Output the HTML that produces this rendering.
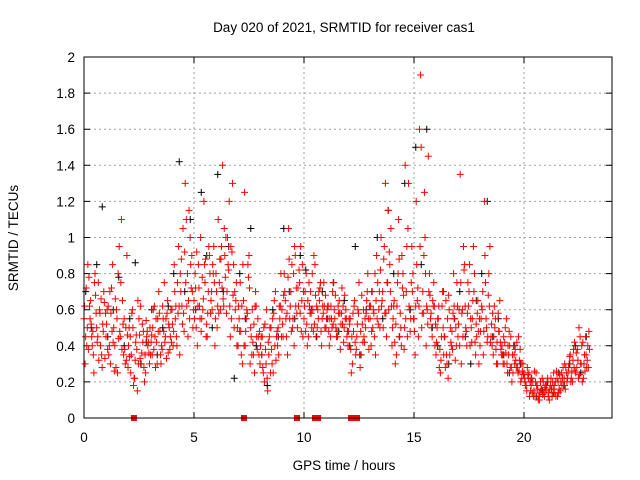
<!DOCTYPE html>
<html><head><meta charset="utf-8"><style>
body{margin:0;background:#fff}
svg{display:block;font-family:"Liberation Sans",sans-serif}
</style></head><body>
<svg id="chart" width="640" height="480" xmlns="http://www.w3.org/2000/svg">
<text x="344" y="32" font-size="13.5" text-anchor="middle">Day 020 of 2021, SRMTID for receiver cas1</text>
<text transform="translate(18,238) rotate(-90)" font-size="13.5" text-anchor="middle">SRMTID / TECUs</text>
<text x="344" y="470" font-size="13.5" text-anchor="middle">GPS time / hours</text>
<g id="grid"></g>
<g id="marks"></g>
<rect x="84" y="57" width="528" height="361" fill="none" stroke="#000" stroke-width="1"/>
</svg>
<script>
const xTicks=[0,5,10,15,20];
const yTicks=[0,0.2,0.4,0.6,0.8,1,1.2,1.4,1.6,1.8,2];
const yTickLabels=["0","0.2","0.4","0.6","0.8","1","1.2","1.4","1.6","1.8","2"];
const redA=[.55,.72,.38,.65,.48,.80,.42,.60,.35,.70,.45,.62,.30,.85,.40,.55,.95,1.10,.35,.50,.28,.45,.60,.22,.38,.55,.30,.48,.25,.40,.50,.35,.62,.42,.70,.30,.55,.45,.65,.38,.60,.85,.45,.95,.70,1.05,1.30,.80,.55,.90,.65,.50,.85,1.00,.60,.75,.45,.90,.70,.95,.80,1.10,.60,1.40,.90,.70,1.20,.55,.85,.65,.40,.75,.30,1.25,.60,.90,.45,.35,.70,.55,.30,.45,.20,.60,.35,.50,.25,.70,.40,.55,.60,.80,.45,1.05,.70,.55,.90,.50,.75,.65,.55,.80,.45,.70,.60,.85,.50,.65,.40,.75,.50,.62,.45,.70,.55,.48,.65,.58,.42,.60,.40,.55,.30,.65,.45,.75,.35,.60,.50,.80,.55,.70,.45,.90,.60,1.00,.50,1.30,.75,.85,.40,.65,.35,1.10,.50,.80,1.40,.45,.60,.95,.55,1.20,.45,1.90,.70,1.00,.60,.80,.50,.75,.35,.55,.25,.70,.45,.30,.60,.40,.80,.50,.45,1.35,.60,.85,.40,.70,.50,.95,.35,.65,.40,.60,1.20,.50,.80,.45,.35,.55,.30,.65,.40,.30,.55,.35,.45,.25,.38,.28,.32,.22,.25,.18,.22,.15,.20,.12,.18,.10,.16,.14,.15,.12,.18,.20,.14,.22,.16,.25,.18,.28,.25,.35,.20,.42,.28,.50,.30,.22,.45,.40];
const redB=[.30,.50,.62,.45,.25,.58,.75,.40,.52,.33,.60,.40,.72,.50,.28,.80,.45,.65,.38,.90,.50,.35,.18,.42,.65,.33,.52,.20,.45,.36,.42,.60,.28,.55,.48,.38,.75,.33,.52,.60,.40,.55,.75,.35,.62,.48,1.10,.65,.85,.50,.80,.40,.62,.55,1.20,.45,.70,.58,.85,.40,.50,.75,.95,.62,1.00,.85,.45,1.30,.70,.40,.55,.35,.65,.48,.85,.30,.60,.25,.45,.35,.45,.25,.38,.15,.50,.30,.65,.45,.35,.80,.45,.65,.35,.55,.85,.40,.72,.62,.95,.45,.70,.40,.62,.50,.90,.45,.55,.75,.62,.50,.60,.40,.55,.75,.50,.62,.38,.52,.68,.45,.55,.25,.48,.35,.60,.28,.52,.42,.65,.38,.40,.60,.35,.75,.50,.65,.95,.45,.60,1.05,.55,.30,.75,.45,.90,.38,.70,1.30,.55,.80,.35,.65,1.60,.50,.90,.40,1.45,.55,.65,.40,.50,.28,.45,.35,.65,.22,.50,.38,.55,.75,.60,.30,.95,.50,.75,.40,.55,.80,.45,.30,.55,.35,.75,.45,.95,.40,.62,.30,.48,.38,.30,.50,.25,.40,.20,.35,.28,.45,.20,.30,.20,.28,.12,.22,.15,.25,.10,.20,.13,.17,.20,.10,.16,.25,.12,.20,.15,.22,.30,.20,.30,.22,.38,.25,.32,.45,.20,.35,.28,.48];
const redC=[.62,.40,.78,.52,.35,.68,.45,.58,.28,.64,.52,.35,.58,.42,.66,.25,.48,.38,.55,.32,.40,.25,.50,.32,.15,.46,.36,.28,.54,.42,.35,.50,.45,.30,.58,.40,.48,.55,.36,.45,.52,.70,.40,.62,.88,.58,.75,.45,1.00,.70,.55,.92,.72,.48,.66,.88,.58,.80,.60,.75,.70,.58,.88,.66,.78,1.00,.62,.92,.50,.75,.62,.48,.85,.40,.58,.72,.35,.52,.62,.45,.40,.28,.52,.22,.45,.38,.58,.32,.50,.62,.52,.70,.58,.88,.48,.80,.62,.72,.58,.85,.62,.52,.75,.58,.48,.68,.60,.72,.55,.62,.55,.48,.62,.52,.68,.45,.58,.72,.50,.55,.48,.38,.58,.42,.52,.35,.68,.45,.58,.55,.62,.50,.80,.55,.70,.62,.88,.58,1.15,.70,.50,.42,.62,.88,.40,.68,.55,1.05,.48,.70,.48,.85,.62,1.50,.58,.80,.52,.68,.45,.62,.42,.62,.32,.50,.28,.55,.35,.48,.62,.40,.52,.75,.45,.62,.58,.85,.42,.70,.52,.48,.48,.70,.90,.42,.62,.52,.45,.38,.58,.42,.35,.42,.30,.48,.28,.40,.32,.25,.38,.26,.22,.15,.25,.18,.12,.20,.16,.14,.22,.12,.18,.14,.22,.16,.20,.12,.24,.18,.22,.25,.28,.20,.32,.26,.38,.24,.40,.30,.35,.28];
const redD=[.45,.85,.55,.40,.75,.50,.32,.66,.48,.58,.38,.70,.48,.26,.60,.44,.75,.52,.30,.46,.34,.58,.22,.46,.30,.62,.42,.35,.48,.30,.46,.38,.55,.48,.35,.62,.42,.58,.50,.42,.48,.62,.58,.80,.52,.92,.62,1.15,.72,.60,.72,.62,.55,.78,.85,.52,.95,.65,.80,.55,.62,.88,.72,1.05,.58,.82,.95,.68,.60,.50,.48,.62,.40,.55,.78,.50,.42,.62,.38,.48,.35,.50,.30,.42,.25,.55,.40,.48,.62,.45,.68,.55,.78,.62,.50,.95,.58,.82,.48,.70,.48,.65,.58,.80,.52,.62,.70,.48,.58,.68,.62,.55,.50,.60,.45,.58,.52,.62,.55,.48,.52,.45,.62,.38,.58,.48,.42,.55,.70,.62,.48,.58,.65,.52,.82,.70,.58,.75,.92,.62,.62,.52,.80,.58,.72,.50,.95,.62,.75,.55,.62,.72,.95,.58,1.25,.62,.70,.58,.62,.52,.55,.38,.62,.45,.35,.68,.42,.58,.32,.62,.40,.58,.82,.48,.62,.55,.65,.42,.58,.55,.62,.48,.55,.68,.42,.58,.50,.42,.48,.35,.45,.36,.40,.28,.35,.30,.42,.26,.30,.24,.18,.24,.20,.14,.26,.18,.12,.16,.20,.18,.22,.16,.12,.18,.26,.14,.20,.28,.16,.22,.34,.26,.28,.36,.22,.30,.42,.26,.32,.38];
const black=[.70,.50,.85,1.17,.45,.60,.78,.40,.55,.86,.30,.42,.60,.35,.50,.62,.80,1.42,.70,1.10,.60,1.25,.90,.50,1.35,.70,.95,.22,.80,.55,1.05,.40,.35,.18,.60,.45,1.05,.70,.55,.90,.82,.60,.45,.70,.55,.75,.48,.65,.40,.95,.35,.60,.70,1.00,.55,1.15,.80,.45,1.30,.60,1.50,.85,1.60,.50,.40,.70,.30,.55,.70,.45,.30,.65,.80,1.20,.45,.55,.35,.25,.40,.30,.18,.22,.12,.15,.20,.14,.25,.18,.30,.40,.25,.45];
const gapHours=[2.27,7.27,9.68,10.5,10.64,12.14,12.41];
const NS="http://www.w3.org/2000/svg";
const X=h=>84+h*22, Y=v=>418-v*180.5;
const grid=document.getElementById('grid'), marks=document.getElementById('marks'), svg=document.getElementById('chart');
function mk(tag,attrs,parent){const e=document.createElementNS(NS,tag);for(const k in attrs)e.setAttribute(k,attrs[k]);parent.appendChild(e);return e;}
xTicks.forEach(t=>{const x=X(t);
 if(t>0){const g=mk('line',{x1:x,x2:x,y1:57,y2:418,stroke:'#a0a0a0','stroke-dasharray':'2,3'},grid);
 
 }
 const tk=mk('path',{d:`M${x} 418v-6M${x} 57v6`,stroke:'#000'},grid);
 
 
 const l=mk('text',{x:x,y:442,'font-size':13.5,'text-anchor':'middle'},svg);l.textContent=t;
 
 });
yTicks.forEach((t,i)=>{const y=Y(t);
 if(t>0&&t<2){const g=mk('line',{x1:84,x2:612,y1:y,y2:y,stroke:'#a0a0a0','stroke-dasharray':'2,3'},grid);
 
 }
 const tk=mk('path',{d:`M84 ${y}h6M612 ${y}h-6`,stroke:'#000'},grid);
 
 
 const l=mk('text',{x:75,y:y+5,'font-size':13.5,'text-anchor':'end'},svg);l.textContent=yTickLabels[i];
 
 });
function plus(h,v,color,name){const x=X(h),y=Y(v);
 const p=mk('path',{d:`M${x-3.5} ${y}h7M${x} ${y-3.5}v7`,stroke:color,'stroke-width':1},marks);
 
 }
black.forEach((v,i)=>plus(0.08+i*0.25,v,'#000','black-point'));
redA.forEach((v,i)=>plus(i*0.1,v,'#f00','red-point'));
redC.forEach((v,i)=>plus(0.025+i*0.1,v,'#f00','red-point'));
redB.forEach((v,i)=>plus(0.05+i*0.1,v,'#f00','red-point'));
redD.forEach((v,i)=>plus(0.075+i*0.1,v,'#f00','red-point'));
gapHours.forEach(h=>{const r=mk('rect',{x:X(h)-3,y:415,width:6,height:6,fill:'#f00'},marks);
 
 });
</script>
</body></html>
